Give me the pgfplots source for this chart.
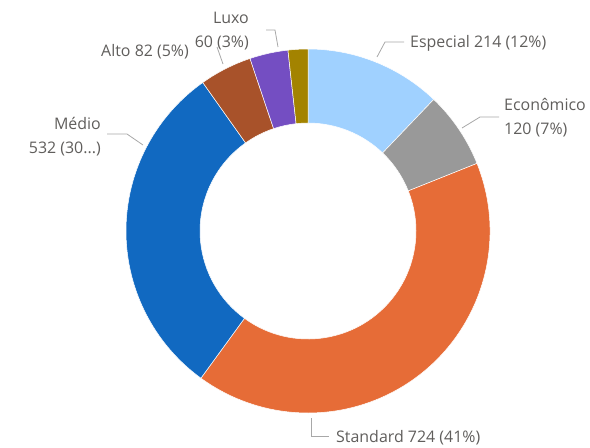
\documentclass[border=0pt]{standalone}
\usepackage{fontspec}
\setmainfont{Open Sans}
\usepackage{pgfplots}
\pgfplotsset{compat=1.18}
\usepackage{pgfplotstable}

\definecolor{cEsp}{HTML}{A0D1FF}
\definecolor{cEco}{HTML}{999999}
\definecolor{cStd}{HTML}{E66C37}
\definecolor{cMed}{HTML}{1169C1}
\definecolor{cAlt}{HTML}{A8522A}
\definecolor{cLux}{HTML}{744EC2}
\definecolor{cOli}{HTML}{A38300}
\definecolor{txt}{HTML}{605E5C}
\definecolor{lead}{HTML}{A8A8A8}

% slices, clockwise from the top
\pgfplotstableread{
label     value color
Especial  214   cEsp
Economico 120   cEco
Standard  724   cStd
Medio     532   cMed
Alto      82    cAlt
Luxo      60    cLux
Outro     31    cOli
}\slices

% cumulative angles (clockwise from 12 o'clock)
\pgfplotstablegetrowsof{\slices}
\pgfmathtruncatemacro\nslices{\pgfplotsretval-1}
\def\total{0}
\foreach \i in {0,...,\nslices}{
  \pgfplotstablegetelem{\i}{value}\of{\slices}
  \pgfmathsetmacro\t{\total+\pgfplotsretval}
  \xdef\total{\t}
}
\def\run{0}
\foreach \i in {0,...,\nslices}{
  \pgfplotstablegetelem{\i}{value}\of{\slices}
  \pgfmathsetmacro\aa{90-360*(\run/\total)}
  \pgfmathsetmacro\r{\run+\pgfplotsretval}
  \xdef\run{\r}
  \pgfmathsetmacro\bb{90-360*(\run/\total)}
  \expandafter\xdef\csname sa\i\endcsname{\aa}
  \expandafter\xdef\csname sb\i\endcsname{\bb}
  \pgfplotstablegetelem{\i}{color}\of{\slices}
  \expandafter\xdef\csname sc\i\endcsname{\pgfplotsretval}
}

\begin{document}
\begin{tikzpicture}[font=\fontsize{16}{24}\selectfont]
\begin{axis}[
    width=590bp, height=447bp, scale only axis,
    xmin=0, xmax=590, ymin=0, ymax=447, y dir=reverse,
    hide axis, clip=false]
  \path (axis cs:0,0) rectangle (axis cs:590,447);
  \pgfplotsinvokeforeach{0,...,6}{
    \fill[color=\csname sc#1\endcsname, draw=white, line width=0.5pt]
      (axis cs:308,231) ++(\csname sa#1\endcsname:182bp)
      arc[start angle=\csname sa#1\endcsname, end angle=\csname sb#1\endcsname, radius=182bp]
      -- ++(\csname sb#1\endcsname+180:74bp)
      arc[start angle=\csname sb#1\endcsname, end angle=\csname sa#1\endcsname, radius=108bp]
      -- cycle;
  }
  % leader lines
  \begin{scope}[lead, line width=0.8pt]
    \draw (axis cs:377,57) -- (axis cs:385,42) -- (axis cs:404,42);
    \draw (axis cs:462,128) -- (axis cs:480,117) -- (axis cs:499,117);
    \draw (axis cs:311,418) -- (axis cs:311,436) -- (axis cs:329,436);
    \draw (axis cs:143,145) -- (axis cs:127,134) -- (axis cs:107,134);
    \draw (axis cs:223,64) -- (axis cs:217,47);
    \draw (axis cs:278,47) -- (axis cs:275,30) -- (axis cs:266,30);
  \end{scope}
  % data labels
  \begin{scope}[txt, inner sep=0pt]
    \node[anchor=west] at (axis cs:410,43) {Especial 214 (12\%)};
    \node[anchor=west, align=left] at (axis cs:504,118) {Econômico\\120 (7\%)};
    \node[anchor=west] at (axis cs:336,438) {Standard 724 (41\%)};
    \node[anchor=east, align=right] at (axis cs:101,137) {Médio\\532 (30...)};
    \node[anchor=east] at (axis cs:189,52) {Alto 82 (5\%)};
    \node[anchor=east, align=right] at (axis cs:249,31) {Luxo\\60 (3\%)};
  \end{scope}
\end{axis}
\end{tikzpicture}
\end{document}
